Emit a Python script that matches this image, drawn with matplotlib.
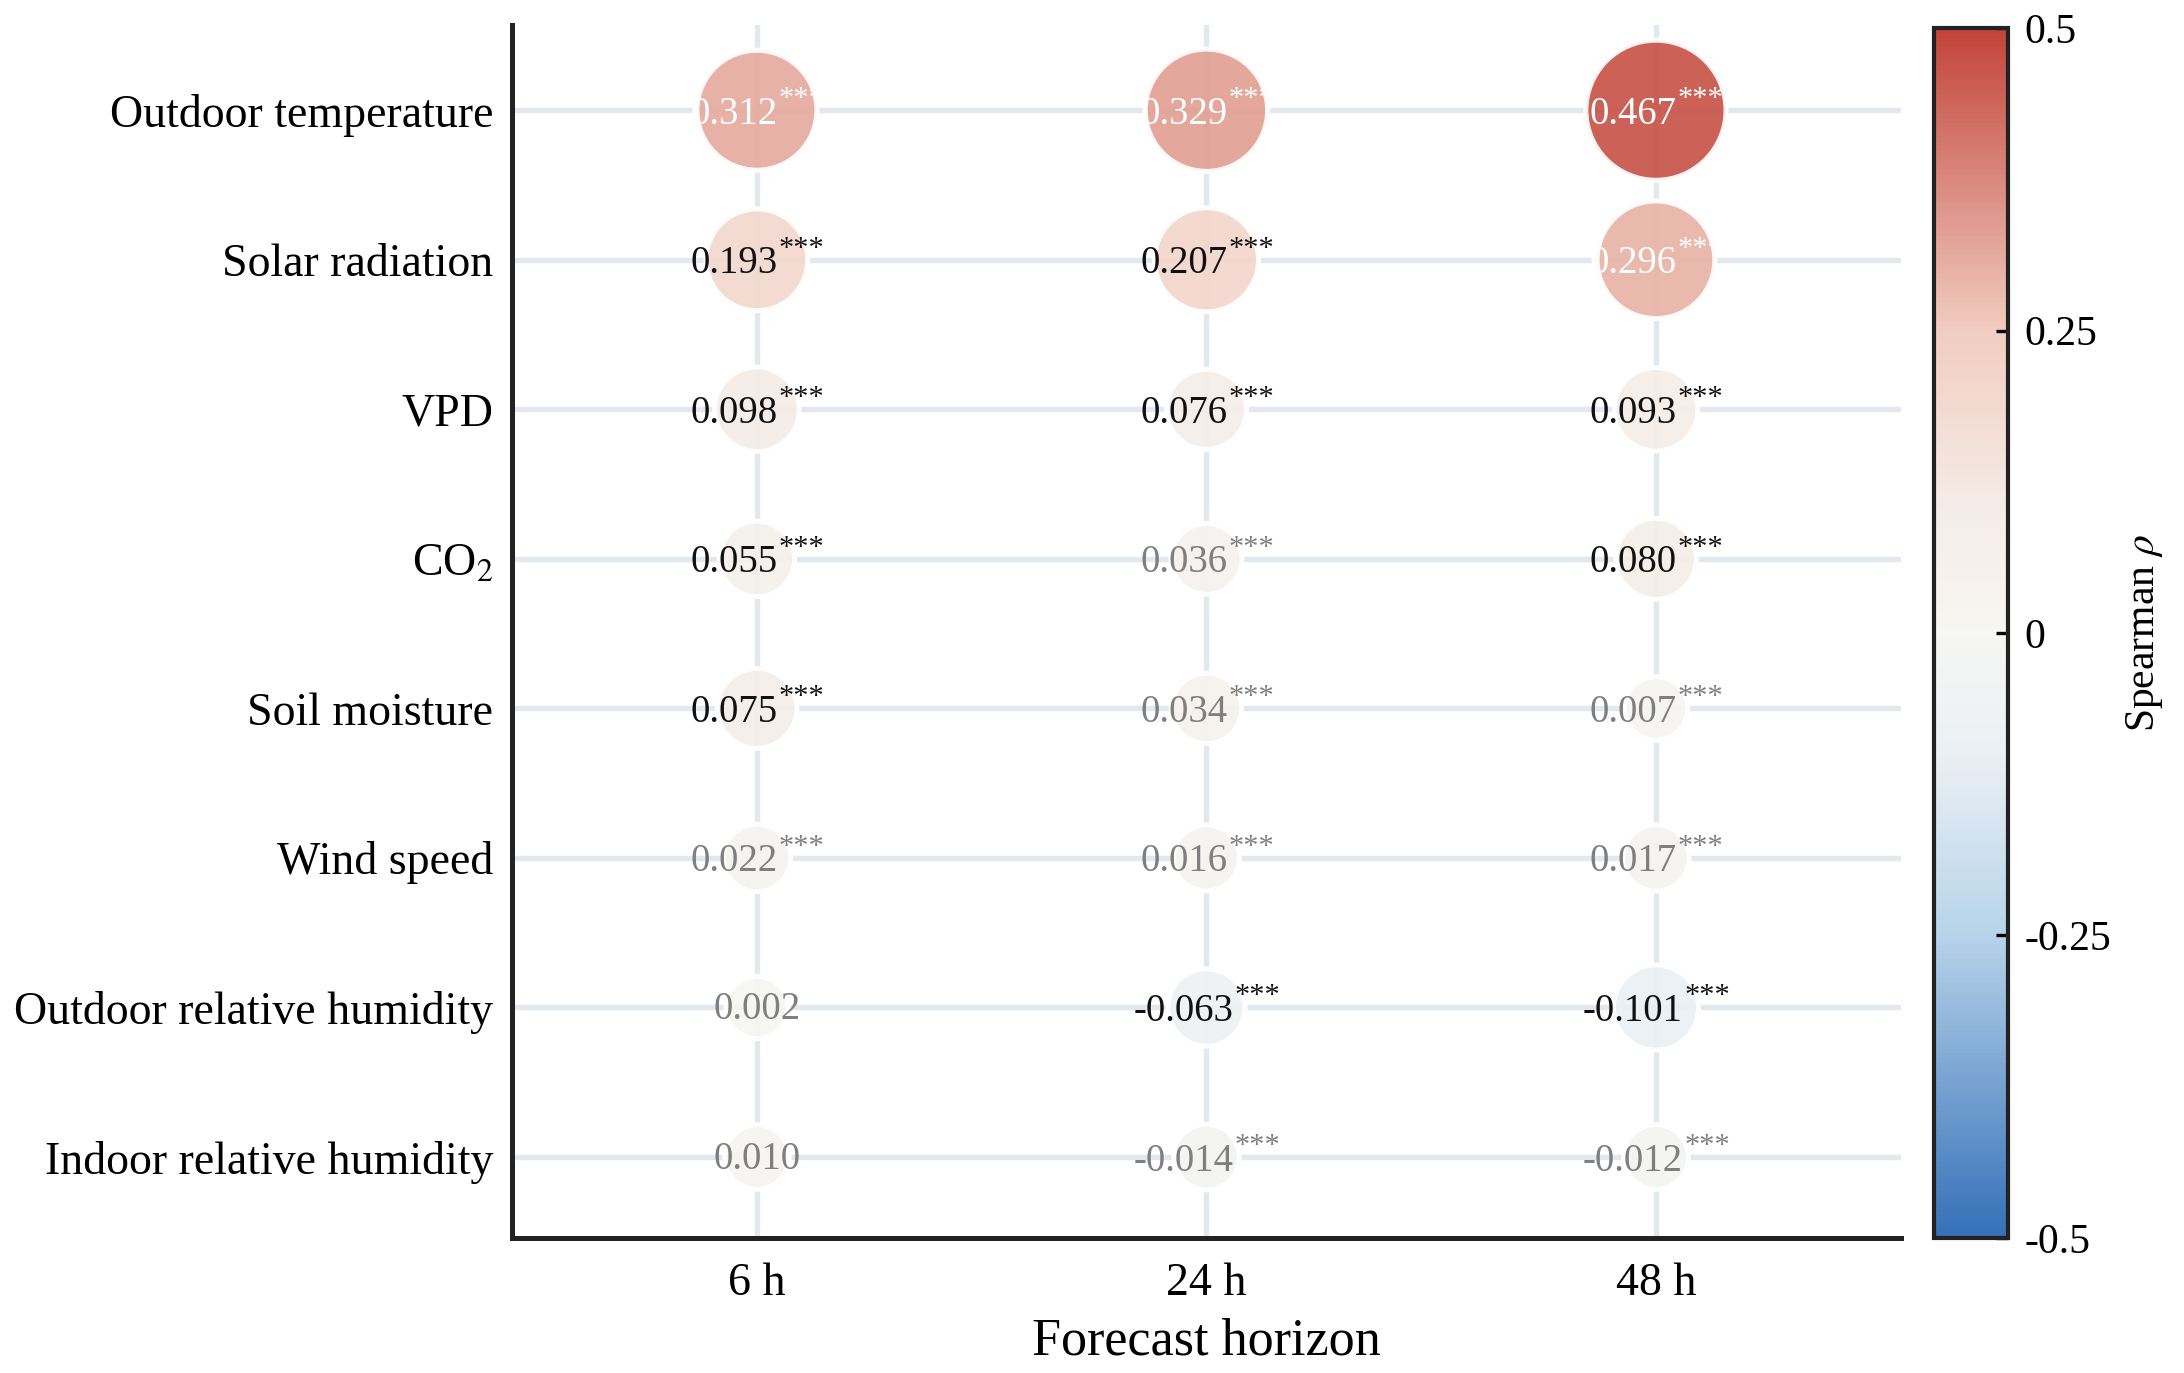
import matplotlib
matplotlib.use("Agg")
import matplotlib.pyplot as plt
import matplotlib.transforms as mtransforms
import numpy as np
from matplotlib.colors import LinearSegmentedColormap, Normalize
from matplotlib.cm import ScalarMappable

plt.rcParams['font.family'] = ['Liberation Serif', 'DejaVu Serif']
plt.rcParams['mathtext.fontset'] = 'stix'
plt.rcParams['axes.unicode_minus'] = False

# data
variables = ['Outdoor temperature', 'Solar radiation', 'VPD', 'CO$_2$',
             'Soil moisture', 'Wind speed', 'Outdoor relative humidity',
             'Indoor relative humidity']
horizons = ['6 h', '24 h', '48 h']
rho_6h = [0.312, 0.193, 0.098, 0.055, 0.075, 0.022, 0.002, 0.010]
rho_24h = [0.329, 0.207, 0.076, 0.036, 0.034, 0.016, -0.063, -0.014]
rho_48h = [0.467, 0.296, 0.093, 0.080, 0.007, 0.017, -0.101, -0.012]
sig_6h = ['***'] * 6 + ['', '']
sig_24h = ['***'] * 8
sig_48h = ['***'] * 8

rho = np.array([rho_6h, rho_24h, rho_48h]).T
sig = np.array([sig_6h, sig_24h, sig_48h]).T

cmap = LinearSegmentedColormap.from_list(
    'spearman',
    [(0.0, '#3570b8'), (0.25, '#b7d4ea'), (0.4, '#eaf0f4'), (0.5, '#f6f6f2'),
     (0.6, '#f5ece7'), (0.75, '#f2cdc1'), (1.0, '#c2443a')])
norm = Normalize(vmin=-0.5, vmax=0.5)

fig = plt.figure(figsize=(7.28, 4.5767), dpi=300)
ax = fig.add_axes([0.2344, 0.0985, 0.636, 0.8833])

ny, nx = rho.shape
xx, yy = np.meshgrid(np.arange(nx), np.arange(ny))
sizes = 220 + 1950 * np.abs(rho)

ax.scatter(xx.ravel(), yy.ravel(), s=sizes.ravel(), c=rho.ravel(),
           cmap=cmap, norm=norm, alpha=0.93, edgecolors='white',
           linewidths=1.2, zorder=3)

ax.set_xlim(-0.545, nx - 1 + 0.545)
ax.set_ylim(ny - 1 + 0.54, -0.57)

renderer = fig.canvas.get_renderer()
for i in range(ny):
    for j in range(nx):
        v = rho[i, j]
        if abs(v) > 0.25:
            col = 'white'
        elif abs(v) >= 0.05:
            col = '#111111'
        else:
            col = '#7f7f7f'
        t_num = ax.text(j, i, f"{v:.3f}", ha='center', va='center',
                        fontsize=9.3, color=col, zorder=4)
        if not sig[i, j]:
            t_num.set_transform(mtransforms.offset_copy(
                ax.transData, fig, x=0, y=-2, units='dots'))
            continue
        t_star = ax.text(j, i, sig[i, j], ha='left', va='center',
                         fontsize=7.3, color=col, zorder=4)
        w_num = t_num.get_window_extent(renderer).width
        w_star = t_star.get_window_extent(renderer).width
        t_num.set_transform(mtransforms.offset_copy(
            ax.transData, fig, x=-w_star / 2, y=-4, units='dots'))
        t_star.set_transform(mtransforms.offset_copy(
            ax.transData, fig, x=w_num / 2 - w_star / 2 + 1, y=11,
            units='dots'))

ax.set_xticks(range(nx))
ax.set_xticklabels(horizons, fontsize=11)
ax.set_yticks(range(ny))
ax.set_yticklabels(variables, fontsize=11)
ax.tick_params(axis='y', length=0, pad=4.5)
ax.tick_params(axis='x', length=0, pad=6)
ax.set_xlabel('Forecast horizon', fontsize=12.5, labelpad=3)

ax.grid(True, color='#e3e8ee', linewidth=1.3, zorder=0)
ax.set_axisbelow(True)
for side in ['top', 'right']:
    ax.spines[side].set_visible(False)
for side in ['left', 'bottom']:
    ax.spines[side].set_color('#222222')
    ax.spines[side].set_linewidth(1.2)

cax = fig.add_axes([0.8855, 0.0985, 0.0339, 0.881])
sm = ScalarMappable(norm=norm, cmap=cmap)
cb = fig.colorbar(sm, cax=cax)
cb.set_ticks([-0.5, -0.25, 0, 0.25, 0.5])
cb.set_ticklabels(['-0.5', '-0.25', '0', '0.25', '0.5'])
cb.ax.tick_params(labelsize=10, direction='in', length=3, width=0.8, pad=4)
cb.outline.set_edgecolor('#222222')
cb.outline.set_linewidth(1.0)
cb.set_label(r'Spearman $\rho$', fontsize=10, labelpad=3)

plt.savefig('out.png', dpi=300)
plt.close()
